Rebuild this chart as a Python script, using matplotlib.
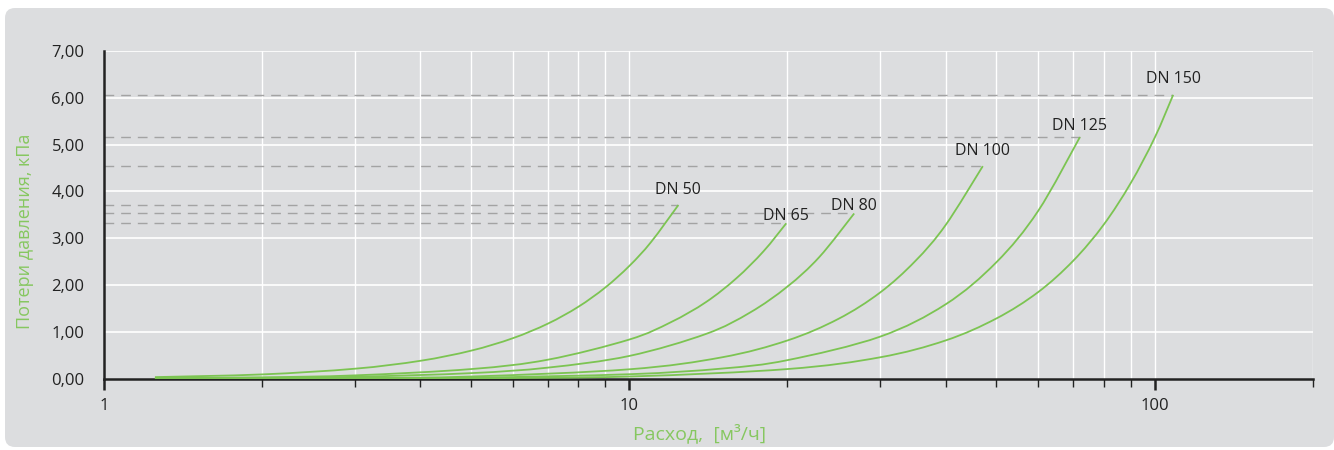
import numpy as np
import matplotlib
matplotlib.use('Agg')
import matplotlib.pyplot as plt
from matplotlib.patches import FancyBboxPatch, PathPatch
from matplotlib.path import Path
from matplotlib.ticker import FixedLocator, NullFormatter, FuncFormatter

plt.rcParams['font.family'] = ['Open Sans', 'DejaVu Sans']

# flow (m3/h) and pressure loss (kPa)
q_dn50 = [1.25, 2, 3, 4, 5, 6, 7, 8, 9, 10, 11, 12.4]
p_dn50 = [0.038, 0.096, 0.217, 0.386, 0.603, 0.868, 1.18, 1.54, 1.95, 2.41, 2.92, 3.71]

q_dn65 = [1.25, 2, 3, 5, 7, 10, 12, 14, 16, 18, 19.9]
p_dn65 = [0.013, 0.034, 0.075, 0.21, 0.41, 0.84, 1.21, 1.64, 2.15, 2.72, 3.32]

q_dn80 = [1.25, 2, 3, 5, 7, 10, 14, 17, 20, 23, 26.8]
p_dn80 = [0.008, 0.020, 0.044, 0.123, 0.241, 0.49, 0.96, 1.42, 1.97, 2.60, 3.53]

q_dn100 = [1.25, 3, 5, 10, 15, 20, 25, 30, 35, 40, 47.1]
p_dn100 = [0.003, 0.018, 0.051, 0.205, 0.46, 0.82, 1.28, 1.84, 2.51, 3.28, 4.54]

q_dn125 = [1.25, 3, 5, 10, 15, 20, 30, 40, 50, 60, 72.1]
p_dn125 = [0.002, 0.009, 0.025, 0.10, 0.22, 0.40, 0.90, 1.59, 2.49, 3.58, 5.16]

q_dn150 = [1.25, 3, 5, 10, 20, 30, 40, 50, 60, 70, 80, 90, 100, 108.5]
p_dn150 = [0.001, 0.005, 0.013, 0.051, 0.21, 0.46, 0.82, 1.29, 1.85, 2.52, 3.29, 4.17, 5.14, 6.06]

names = ['DN 50', 'DN 65', 'DN 80', 'DN 100', 'DN 125', 'DN 150']
label_y = [3.94, 3.39, 3.60, 4.78, 5.31, 6.31]

series = [(q_dn50, p_dn50), (q_dn65, p_dn65), (q_dn80, p_dn80),
          (q_dn100, p_dn100), (q_dn125, p_dn125), (q_dn150, p_dn150)]

bg = '#dcdddf'
green = '#7cc452'


def smooth_path(q, p):
    # smoothed line like a spreadsheet chart: bezier through the points,
    # control points worked out in log-x space
    x = np.log10(q)
    y = np.array(p, float)
    n = len(x)
    verts = [(q[0], p[0])]
    codes = [Path.MOVETO]
    for i in range(n - 1):
        x0, y0 = (x[i - 1], y[i - 1]) if i > 0 else (x[i], y[i])
        x3, y3 = (x[i + 2], y[i + 2]) if i + 2 < n else (x[i + 1], y[i + 1])
        c1 = (x[i] + (x[i + 1] - x0) / 6, y[i] + (y[i + 1] - y0) / 6)
        c2 = (x[i + 1] - (x3 - x[i]) / 6, y[i + 1] - (y3 - y[i]) / 6)
        verts += [(10 ** c1[0], c1[1]), (10 ** c2[0], c2[1]), (q[i + 1], p[i + 1])]
        codes += [Path.CURVE4] * 3
    return Path(verts, codes)


fig = plt.figure(figsize=(13.34, 4.5), dpi=100)
fig.patch.set_facecolor('white')

# rounded grey panel behind everything
back = fig.add_axes([0, 0, 1, 1], zorder=-5)
back.set_xlim(0, 1334)
back.set_ylim(0, 450)
back.axis('off')
back.add_patch(FancyBboxPatch((5, 3), 1329, 439,
                              boxstyle='round,pad=0,rounding_size=10',
                              facecolor=bg, edgecolor='none'))

ax = fig.add_axes([0.078, 0.158, 0.906, 0.729])
ax.set_facecolor(bg)
ax.set_xscale('log')
ax.set_xlim(1, 200)
ax.set_ylim(0, 7)

# grid
minors = [2, 3, 4, 5, 6, 7, 8, 9, 20, 30, 40, 50, 60, 70, 80, 90, 200]
for v in [10, 100] + minors:
    ax.axvline(v, color='white', lw=1, zorder=0)
for v in range(1, 8):
    ax.axhline(v, color='white', lw=1.2, zorder=0)

for (q, p), nm, ly in zip(series, names, label_y):
    ax.plot([1, q[-1]], [p[-1], p[-1]], color='#a3a3a3', lw=1,
            dashes=(7, 5), zorder=1)
    ax.add_patch(PathPatch(smooth_path(q, p), facecolor='none',
                           edgecolor=green, lw=1.3, zorder=3))
    ax.text(q[-1], ly, nm, ha='center', va='baseline', fontsize=11.5,
            color='#222222', zorder=4)

ax.xaxis.set_major_locator(FixedLocator([1, 10, 100]))
ax.xaxis.set_minor_locator(FixedLocator(minors))
ax.xaxis.set_major_formatter(FuncFormatter(lambda v, p: '%d' % v))
ax.xaxis.set_minor_formatter(NullFormatter())
ax.tick_params(axis='x', which='major', length=8, width=1.8, color='#222222',
               labelsize=12, labelcolor='#222222', pad=6)
ax.tick_params(axis='x', which='minor', length=6, width=1, color='#222222')

ax.set_yticks(np.arange(0, 8, 1))
ax.yaxis.set_major_formatter(FuncFormatter(lambda v, p: ('%.2f' % v).replace('.', ',')))
ax.tick_params(axis='y', length=0, labelsize=12, labelcolor='#222222', pad=14)

for s in ['top', 'right']:
    ax.spines[s].set_visible(False)
for s in ['left', 'bottom']:
    ax.spines[s].set_color('#222222')
    ax.spines[s].set_linewidth(1.8)

ax.set_xlabel('Расход,  [м³/ч]', color='#86c760', fontsize=14)
ax.xaxis.set_label_coords(0.493, -0.135)
ax.set_ylabel('Потери давления, кПа', color='#86c760', fontsize=13)
ax.yaxis.set_label_coords(-0.058, 0.45)

fig.savefig('out.png', dpi=100, facecolor=fig.get_facecolor())
